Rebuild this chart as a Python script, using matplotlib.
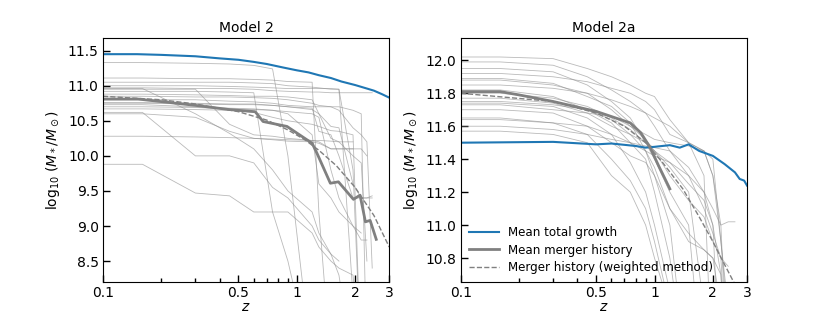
import numpy as np
import matplotlib
matplotlib.use("Agg")
import matplotlib.pyplot as plt
from matplotlib.ticker import FixedLocator, NullFormatter

nan = np.nan

# ---------------- Model 2 (left) ----------------
z_tot_l = [0.1, 0.15, 0.2, 0.3, 0.4, 0.5, 0.6, 0.7, 0.85, 1.0, 1.15, 1.3, 1.5, 1.7, 2.0, 2.3, 2.5, 2.75, 3.0]
m_tot_l = [11.45, 11.45, 11.44, 11.42, 11.39, 11.37, 11.34, 11.31, 11.26, 11.22, 11.19, 11.15, 11.11, 11.06, 11.01, 10.96, 10.93, 10.88, 10.83]

z_mean_l = [0.1, 0.152, 0.3, 0.45, 0.61, 0.67, 0.89, 1.2, 1.27, 1.49, 1.64, 1.96, 2.12, 2.26, 2.39, 2.57]
m_mean_l = [10.81, 10.81, 10.72, 10.66, 10.63, 10.49, 10.42, 10.18, 10.04, 9.61, 9.63, 9.38, 9.44, 9.06, 9.08, 8.81]

z_wt_l = [0.1, 0.2, 0.3, 0.5, 0.7, 0.9, 1.1, 1.3, 1.6, 2.0, 2.5, 3.0]
m_wt_l = [10.85, 10.80, 10.74, 10.63, 10.51, 10.37, 10.23, 10.08, 9.86, 9.55, 9.15, 8.70]

z_hist_l = [0.1, 0.16, 0.3, 0.45, 0.6, 0.75, 0.9, 1.2, 1.3, 1.5, 1.65, 1.95, 2.15, 2.3, 2.45, 2.6]
hist_l = [
    [11.33, 11.33, 11.32, 11.31, 11.29, 11.24, 10.0, 7.0],
    [11.11, 11.11, 11.10, 11.10, 11.09, 11.08, 11.06, 11.05, 9.2, 7.0],
    [10.97, 10.97, 10.96, 10.96, 10.95, 10.93, 10.92, 10.91, 10.91, 10.90, 10.90, 10.90, 10.90, 10.90, 10.90],
    [10.96, 10.96, 10.60, 10.32, 10.10, 9.80, 9.50, 9.20, 8.90, 8.60, 8.30, 7.0],
    [10.95, 10.95, 10.95, 10.45, 10.30, 10.28, 10.25, 10.22, 10.20, 10.10, 10.10, 10.10],
    [10.88, 10.88, 10.87, 10.86, 10.85, 10.85, 10.84, 10.80, 10.60, 10.42, 10.40, 9.60, 9.40, 9.40, 9.43],
    [10.85, 10.85, 10.84, 10.84, 10.83, 10.82, 10.80, 10.75, 10.72, 10.70, 10.70, 10.65, 10.60, 7.0],
    [10.76, 10.76, 10.75, 10.74, 10.74, 10.72, 10.70, 10.66, 10.60, 10.25, 10.20, 10.00, 9.90, 8.50],
    [10.73, 10.73, 10.70, 10.68, 10.67, 10.65, 10.60, 10.30, 9.60, 9.40, 9.20, 9.00, 8.90],
    [10.67, 10.67, 10.66, 10.65, 10.62, 10.55, 10.50, 10.45, 10.42, 10.36, 10.35, 10.30, 7.0],
    [10.62, 10.62, 10.00, 10.00, 9.90, 9.55, 9.40, 9.00, 8.80, 8.60, 8.50],
    [10.60, 10.60, 10.55, 10.35, 10.25, 10.23, 10.21, 10.20, 10.18, 10.10, 10.10, 10.10, 10.10, 10.00],
    [10.28, 10.28, 10.27, 10.26, 10.25, 10.24, 10.23, 10.22, 10.22, 10.21, 10.20, 10.20],
    [9.88, 9.88, 9.47, 9.43, 9.20, 9.20, 9.20, 8.90, 8.70, 8.50, 8.40, 8.30, 7.0],
    [11.05, 11.05, 11.05, 11.05, 11.04, 11.03, 11.00, 10.98, 10.97, 10.95, 10.95, 9.80, 7.0],
    [10.92, 10.92, 10.92, 10.91, 10.90, 9.20, 8.50, 7.0],
    [10.80, 10.80, 10.80, 10.78, 10.77, 10.75, 10.72, 10.70, 10.70, 10.70, 10.65, 10.40, 10.30, 10.20, 8.40],
    [10.70, 10.70, 10.69, 10.67, 10.66, 10.65, 10.63, 10.60, 10.55, 9.80, 9.40, 9.00, 8.80, 8.80],
    [11.00, 11.00, 11.00, 10.99, 10.98, 10.97, 10.96, 10.96, 10.96, 10.96, 10.95, 8.00, 7.0],
    [10.75, 10.75, 10.74, 10.73, 10.73, 10.72, 10.70, 10.68, 10.35, 10.30, 10.00, 9.40, 9.40, 9.40, 9.40],
]

# ---------------- Model 2a (right) ----------------
z_tot_r = [0.1, 0.3, 0.5, 0.6, 0.8, 0.9, 1.0, 1.2, 1.35, 1.5, 1.7, 2.0, 2.3, 2.6, 2.75, 2.9, 3.0]
m_tot_r = [11.50, 11.505, 11.49, 11.495, 11.48, 11.47, 11.475, 11.485, 11.47, 11.49, 11.45, 11.42, 11.37, 11.32, 11.28, 11.27, 11.24]

z_mean_r = [0.1, 0.16, 0.2, 0.3, 0.5, 0.75, 0.85, 0.95, 1.05, 1.2]
m_mean_r = [11.81, 11.81, 11.79, 11.75, 11.69, 11.62, 11.56, 11.47, 11.36, 11.22]

z_wt_r = [0.1, 0.3, 0.5, 0.7, 0.9, 1.1, 1.4, 1.7, 2.0, 2.3, 2.6, 2.8]
m_wt_r = [11.80, 11.75, 11.68, 11.60, 11.50, 11.38, 11.22, 11.05, 10.90, 10.76, 10.64, 10.55]

z_hist_r = [0.1, 0.16, 0.3, 0.45, 0.6, 0.75, 0.9, 1.0, 1.2, 1.5, 1.8, 2.0, 2.2, 2.4, 2.6, 2.8]
hist_r = [
    [12.02, 12.02, 12.01, 11.95, 11.90, 11.85, 11.80, 11.78, 11.64, 11.50, 11.30, 10.0],
    [11.99, 11.99, 11.97, 11.90, 11.82, 11.75, 11.68, 11.60, 11.45, 11.30, 11.20, 11.00, 10.0],
    [11.95, 11.95, 11.93, 11.85, 11.75, 11.65, 11.50, 11.40, 11.20, 11.00, 10.0],
    [11.92, 11.92, 11.90, 11.87, 11.83, 11.80, 11.75, 11.70, 11.55, 11.50, 11.45, 11.40, 10.90, 10.50],
    [11.89, 11.89, 11.86, 11.78, 11.72, 11.62, 11.45, 11.30, 11.00, 10.0],
    [11.85, 11.85, 11.83, 11.80, 11.76, 11.72, 11.68, 11.65, 11.60, 11.50, 11.45, 11.30, 11.00, 10.0],
    [11.82, 11.82, 11.78, 11.70, 11.62, 11.50, 11.40, 11.20, 10.80, 10.0],
    [11.77, 11.77, 11.74, 11.68, 11.60, 11.55, 11.50, 11.47, 11.45, 11.35, 11.20, 11.10, 11.00, 11.02, 11.02],
    [11.74, 11.74, 11.72, 11.65, 11.55, 11.38, 11.20, 11.00, 10.60],
    [11.73, 11.73, 11.70, 11.68, 11.66, 11.60, 11.55, 11.52, 11.50, 11.48, 11.45, 11.30, 10.90, 10.40],
    [11.65, 11.65, 11.62, 11.55, 11.40, 11.27, 11.10, 10.90, 10.50],
    [11.60, 11.60, 11.58, 11.55, 11.52, 11.50, 11.45, 11.42, 11.38, 11.30, 11.10, 10.95, 10.80, 10.0],
    [11.57, 11.57, 11.55, 11.50, 11.30, 11.20, 11.00, 10.80, 10.50],
    [11.70, 11.70, 11.68, 11.60, 11.50, 11.42, 11.38, 11.30, 11.10, 10.95, 10.85, 10.80, 10.70, 10.0],
    [11.80, 11.80, 11.77, 11.72, 11.65, 11.58, 11.50, 11.45, 11.30, 11.15, 11.05, 10.90, 10.80, 10.75],
    [11.88, 11.88, 11.85, 11.80, 11.70, 11.60, 11.52, 11.45, 11.35, 11.20, 10.50, 10.0],
    [11.75, 11.75, 11.73, 11.70, 11.64, 11.55, 11.45, 11.35, 11.10, 10.90, 10.85, 10.80, 10.50],
    [11.64, 11.64, 11.62, 11.60, 11.55, 11.50, 11.48, 11.45, 11.38, 11.25, 11.15, 11.00, 10.70, 10.0],
]

x_ticks = [0.1, 0.5, 1, 2, 3]
x_ticklabels = ["0.1", "0.5", "1", "2", "3"]
x_minor = [0.2, 0.3, 0.4, 0.6, 0.7, 0.8, 0.9]


def pad(vals, n):
    return list(vals) + [nan] * (n - len(vals))


def draw(ax, z_hist, hist, z_tot, m_tot, z_mean, m_mean, z_wt, m_wt):
    for h in hist:
        ax.plot(z_hist, pad(h, len(z_hist)), color="0.55", lw=0.6, alpha=0.6)
    ax.plot(z_tot, m_tot, color="#1f77b4", lw=1.5, label="Mean total growth")
    ax.plot(z_mean, m_mean, color="0.5", lw=2, label="Mean merger history")
    ax.plot(z_wt, m_wt, color="0.5", lw=1, ls="--", label="Merger history (weighted method)")
    ax.set_xscale("log")
    ax.set_xlim(0.1, 3)
    ax.xaxis.set_major_locator(FixedLocator(x_ticks))
    ax.set_xticklabels(x_ticklabels)
    ax.xaxis.set_minor_locator(FixedLocator(x_minor))
    ax.xaxis.set_minor_formatter(NullFormatter())
    ax.tick_params(which="both", direction="in", labelsize=10)
    ax.tick_params(which="major", length=5, width=1, pad=3)
    ax.tick_params(which="minor", length=3, width=1)
    ax.set_xlabel(r"$z$", fontsize=10, labelpad=0)
    ax.set_ylabel(r"$\log_{10}\,(M_*/M_\odot)$", fontsize=10)


fig = plt.figure(figsize=(8.3, 3.17), dpi=100)
ax1 = fig.add_axes([0.124, 0.110, 0.345, 0.770])
ax2 = fig.add_axes([0.555, 0.110, 0.345, 0.770])

draw(ax1, z_hist_l, hist_l, z_tot_l, m_tot_l, z_mean_l, m_mean_l, z_wt_l, m_wt_l)
ax1.set_ylim(8.2, 11.68)
ax1.set_yticks(np.arange(8.5, 11.51, 0.5))
ax1.set_yticklabels(["%.1f" % v for v in np.arange(8.5, 11.51, 0.5)])
ax1.set_title("Model 2", fontsize=10, pad=4)

draw(ax2, z_hist_r, hist_r, z_tot_r, m_tot_r, z_mean_r, m_mean_r, z_wt_r, m_wt_r)
ax2.set_ylim(10.654, 12.135)
ax2.set_yticks(np.arange(10.8, 12.01, 0.2))
ax2.set_yticklabels(["%.1f" % v for v in np.arange(10.8, 12.01, 0.2)])
ax2.set_title("Model 2a", fontsize=10, pad=4)
ax2.legend(loc="lower left", frameon=False, fontsize=8.6, handlelength=2.5,
           borderaxespad=0.3, labelspacing=0.35)

plt.savefig("out.png", dpi=100)
